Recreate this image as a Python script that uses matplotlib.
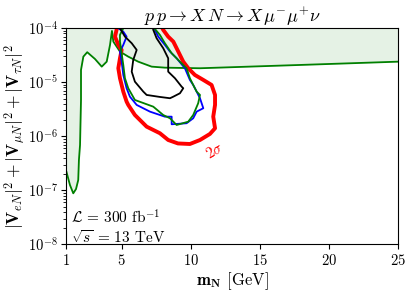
import numpy as np
import matplotlib.pyplot as plt

plt.rcParams['font.family'] = 'serif'
plt.rcParams['font.serif'] = ['cmr10']
plt.rcParams['mathtext.fontset'] = 'cm'
plt.rcParams['axes.formatter.use_mathtext'] = True

# excluded region boundary (log10 of mixing)
excl_m = [1.00, 1.25, 1.49, 1.69, 1.85, 1.90, 1.98, 2.05, 2.05, 2.22, 2.50, 3.06,
          3.55, 3.91, 4.15, 4.29, 4.39, 4.87, 5.47, 6.19, 7.16, 8.12, 10.66, 17.89, 25.0]
excl_logv = [-6.661, -6.902, -7.056, -6.976, -6.809, -6.439, -6.161, -5.328, -4.772,
             -4.526, -4.444, -4.569, -4.711, -4.619, -4.309, -4.05, -4.248, -4.433,
             -4.526, -4.619, -4.711, -4.730, -4.741, -4.680, -4.619]

# 2 sigma contour
red_m = [4.65, 4.51, 4.75, 4.99, 4.87, 4.75, 4.87, 5.11, 5.35, 5.47, 5.95, 6.80, 7.76,
         8.36, 9.07, 9.93, 10.66, 11.38, 11.75, 11.62, 11.75, 11.75, 11.50, 10.90,
         10.29, 9.81, 9.45, 9.09, 8.73, 8.36, 8.00, 7.94]
red_logv = [-4.0, -4.156, -4.309, -4.402, -4.556, -4.741, -4.926, -5.174, -5.359, -5.420,
            -5.606, -5.822, -5.944, -6.069, -6.133, -6.143, -6.069, -5.957, -5.852,
            -5.637, -5.420, -5.235, -5.05, -4.957, -4.865, -4.741, -4.619, -4.433,
            -4.248, -4.156, -4.031, -4.0]

blue_m = [4.75, 5.11, 5.35, 5.11, 4.87, 4.99, 5.11, 5.35, 5.59, 6.08, 7.04, 7.76, 8.12,
          8.61, 8.61, 9.69, 10.17, 10.42, 10.90, 10.66, 10.42, 10.17, 9.93, 9.57, 8.97,
          8.49, 8.12, 7.64, 7.40, 7.33]
blue_logv = [-4.0, -4.063, -4.156, -4.309, -4.433, -4.619, -4.865, -5.111, -5.267, -5.420,
             -5.544, -5.606, -5.637, -5.637, -5.778, -5.759, -5.667, -5.544, -5.481,
             -5.296, -5.174, -5.05, -4.957, -4.741, -4.556, -4.433, -4.309, -4.156,
             -4.031, -4.0]

green_m = [5.11, 4.87, 4.87, 5.11, 5.23, 5.47, 5.95, 7.28, 8.00, 8.49, 8.97, 9.81, 10.17,
           10.53, 10.66, 10.42, 10.17, 9.93, 9.69, 9.21, 8.61, 8.12, 7.76, 7.40, 7.33]
green_logv = [-4.0, -4.124, -4.248, -4.680, -4.926, -5.111, -5.328, -5.452, -5.606, -5.667,
              -5.791, -5.730, -5.606, -5.389, -5.235, -5.174, -5.05, -4.926, -4.741,
              -4.619, -4.463, -4.278, -4.124, -4.013, -4.0]

black_m = [4.87, 5.23, 5.72, 6.08, 5.83, 5.72, 5.95, 6.56, 6.80, 7.76, 8.49, 8.73, 9.21,
           9.45, 9.33, 8.85, 8.36, 8.36, 8.00, 7.52, 7.28, 7.26]
black_logv = [-4.0, -4.156, -4.278, -4.402, -4.587, -4.804, -4.989, -5.174, -5.235, -5.272,
              -5.296, -5.267, -5.204, -5.111, -5.081, -4.926, -4.804, -4.556, -4.370,
              -4.185, -4.031, -4.0]

fig = plt.figure(figsize=(4.13, 2.94), dpi=100)
ax = fig.add_axes([0.161, 0.169, 0.803, 0.735])

excl_v = 10 ** np.array(excl_logv)
ax.fill_between(excl_m, excl_v, 1e-4, color='green', alpha=0.1, lw=0)
ax.plot(excl_m, excl_v, color='green', lw=1.3)

ax.plot(red_m, 10 ** np.array(red_logv), color='red', lw=2.8)
ax.plot(blue_m, 10 ** np.array(blue_logv), color='blue', lw=1.3)
ax.plot(green_m, 10 ** np.array(green_logv), color='green', lw=1.3)
ax.plot(black_m, 10 ** np.array(black_logv), color='black', lw=1.3)

ax.text(11.7, 10 ** -6.27, r'$2\sigma$', color='red', fontsize=11, rotation=30,
        ha='center', va='center')

ax.set_yscale('log')
ax.set_xlim(1, 25)
ax.set_ylim(1e-8, 1e-4)
ax.set_xticks([1, 5, 10, 15, 20, 25])
ax.tick_params(labelsize=10.5, pad=2.5)

ax.set_title(r'$p\,p \to X\,N \to X\,\mu^{-}\mu^{+}\nu$', fontsize=13, pad=3)
ax.set_xlabel(r'$\mathbf{m_N}$ [GeV]', fontsize=12, labelpad=2)
ax.set_ylabel(r'$|\mathbf{V}_{eN}|^2 + |\mathbf{V}_{\mu N}|^2 + |\mathbf{V}_{\tau N}|^2$',
              fontsize=12.5, labelpad=1)

ax.text(1.3, 10 ** -7.62, r'$\mathcal{L}$ = 300 fb$^{-1}$', fontsize=11)
ax.text(1.3, 10 ** -7.97, r'$\sqrt{s}$ = 13 TeV', fontsize=11)

fig.savefig('out.png', dpi=100)
